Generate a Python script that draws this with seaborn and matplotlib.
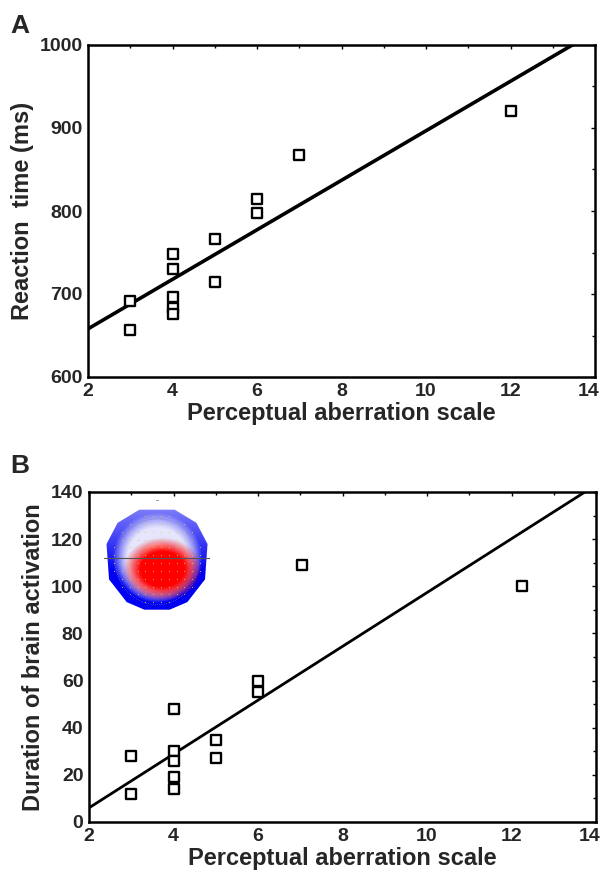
import numpy as np
import pandas as pd
import matplotlib
matplotlib.use("Agg")
import matplotlib.pyplot as plt
import matplotlib.transforms as mtransforms
from matplotlib.ticker import MultipleLocator
from matplotlib.patches import Polygon
import seaborn as sns

# ---- data ----
pas_a = [3, 3, 4, 4, 4, 4, 4, 5, 5, 6, 6, 7, 12]
rt_ms = [692, 657, 748, 730, 696, 683, 676, 766, 714, 814, 797, 868, 921]
fit_a_x = [2, 14]
fit_a_y = [658, 1016]

pas_b = [3, 3, 4, 4, 4, 4, 4, 5, 5, 6, 6, 7.05, 12.25]
dur_b = [28, 12, 48, 30, 26, 19, 14, 35, 27, 60, 55, 109, 100]
fit_b_x = [2, 14]
fit_b_y = [6, 143]

xticks = [2, 4, 6, 8, 10, 12, 14]
yticks_a = [600, 700, 800, 900, 1000]
yticks_b = [0, 20, 40, 60, 80, 100, 120, 140]

sns.set_theme(style="white")
plt.rcParams['font.family'] = ['Liberation Sans', 'DejaVu Sans']
plt.rcParams['font.weight'] = 'bold'

W, H = 603, 881
fig = plt.figure(figsize=(W / 100, H / 100), dpi=100)


def frac(l, t, r, b):
    return [l / W, 1 - b / H, (r - l) / W, (b - t) / H]


axA = fig.add_axes(frac(88, 45, 595, 377))
axB = fig.add_axes(frac(89, 492, 596, 822))

dfA = pd.DataFrame({"x": pas_a, "y": rt_ms})
dfB = pd.DataFrame({"x": pas_b, "y": dur_b})
fitA = pd.DataFrame({"x": fit_a_x, "y": fit_a_y})
fitB = pd.DataFrame({"x": fit_b_x, "y": fit_b_y})

for ax, df, fit, yt, ylabel, minor_y, lw in [
    (axA, dfA, fitA, yticks_a, "Reaction  time (ms)", 50, 2.6),
    (axB, dfB, fitB, yticks_b, "Duration of brain activation", 10, 2.0),
]:
    sns.lineplot(data=fit, x="x", y="y", ax=ax, color="black", lw=lw, zorder=3)
    sns.scatterplot(data=df, x="x", y="y", ax=ax, marker="s", s=46,
                    facecolor="white", edgecolor="black", linewidth=1.7, zorder=4)
    ax.set_xlim(2, 14)
    ax.set_ylim(yt[0], yt[-1])
    ax.set_xticks(xticks)
    ax.set_yticks(yt)
    ax.xaxis.set_minor_locator(MultipleLocator(1))
    ax.yaxis.set_minor_locator(MultipleLocator(minor_y))
    ax.tick_params(which="both", direction="in", top=True, right=True,
                   length=2.5, width=1, color="black", labelsize=14, pad=4)
    ax.tick_params(which="major", length=3)
    for lab in ax.get_xticklabels() + ax.get_yticklabels():
        lab.set_fontweight("bold")
    last = ax.get_xticklabels()[-1]
    last.set_transform(last.get_transform() +
                       mtransforms.ScaledTranslation(-6 / 100, 0, fig.dpi_scale_trans))
    for s in ax.spines.values():
        s.set_visible(True)
        s.set_color("black")
        s.set_linewidth(1.8)
    ax.set_xlabel("Perceptual aberration scale", fontsize=17, fontweight="bold", labelpad=2)
    ax.set_ylabel(ylabel, fontsize=17, fontweight="bold", labelpad=4)

fig.text(10 / W, 1 - 33 / H, "A", fontsize=19, fontweight="bold", ha="left", va="baseline")
fig.text(10 / W, 1 - 473 / H, "B", fontsize=19, fontweight="bold", ha="left", va="baseline")

# ---- scalp topography inset (decorative) ----
ins = axB.inset_axes([2.3, 89, 2.62, 45], transform=axB.transData)
ins.set_xlim(-1.05, 1.05)
ins.set_ylim(-1.05, 1.05)
ins.axis("off")
n = 240
gx, gy = np.meshgrid(np.linspace(-1.05, 1.05, n), np.linspace(-1.05, 1.05, n))
r_edge = np.sqrt((gx / 0.98) ** 2 + (gy / 1.0) ** 2)
d_red = np.sqrt(((gx - 0.1) / 0.62) ** 2 + ((gy + 0.21) / 0.5) ** 2)
red = np.clip((1.25 - d_red) / 0.55, 0, 1)
top_fade = np.clip(0.8 - 0.4 * gy, 0.3, 1.0)
blue = np.clip((r_edge - 0.6) / 0.3, 0, 1) ** 1.2 * top_fade
blue = np.clip(blue + 0.1 * (r_edge > 0.3), 0, 1)
white = np.ones((n, n, 3))
bcol = np.array([0.0, 0.0, 0.95])
rcol = np.array([1.0, 0.0, 0.0])
img = white * (1 - blue[..., None]) + bcol * blue[..., None]
img = img * (1 - red[..., None]) + rcol * red[..., None]
img = np.clip(img, 0, 1)
head = Polygon([(-0.35, 0.98), (0.35, 0.98), (0.78, 0.72), (1.0, 0.3), (0.95, -0.4),
                (0.6, -0.85), (0.25, -1.0), (-0.25, -1.0), (-0.6, -0.85), (-0.95, -0.4),
                (-1.0, 0.3), (-0.78, 0.72)], closed=True, transform=ins.transData,
               facecolor="none", edgecolor="none")
ins.add_patch(head)
im = ins.imshow(img, extent=(-1.05, 1.05, -1.05, 1.05), origin="lower", interpolation="bilinear")
im.set_clip_path(head)
ex, ey = np.meshgrid(np.linspace(-0.85, 0.85, 12), np.linspace(-0.85, 0.85, 12))
m = np.sqrt(ex ** 2 + ey ** 2) < 0.92
ins.scatter(ex[m], ey[m], s=0.6, color="#e0cc30", zorder=3, linewidths=0)
tt = np.linspace(0, 2 * np.pi, 100)
ins.plot(np.cos(tt) * 0.82, np.sin(tt) * 0.85 - 0.05,
         color="#7777aa", lw=0.5, ls=":", zorder=3)
ins.plot([-1.05, 1.05], [0.02, 0.02], color="#555555", lw=0.8, zorder=4)
ins.text(0, 1.12, "..", fontsize=5, ha="center", va="bottom", color="black")

fig.savefig("out.png", dpi=100)
